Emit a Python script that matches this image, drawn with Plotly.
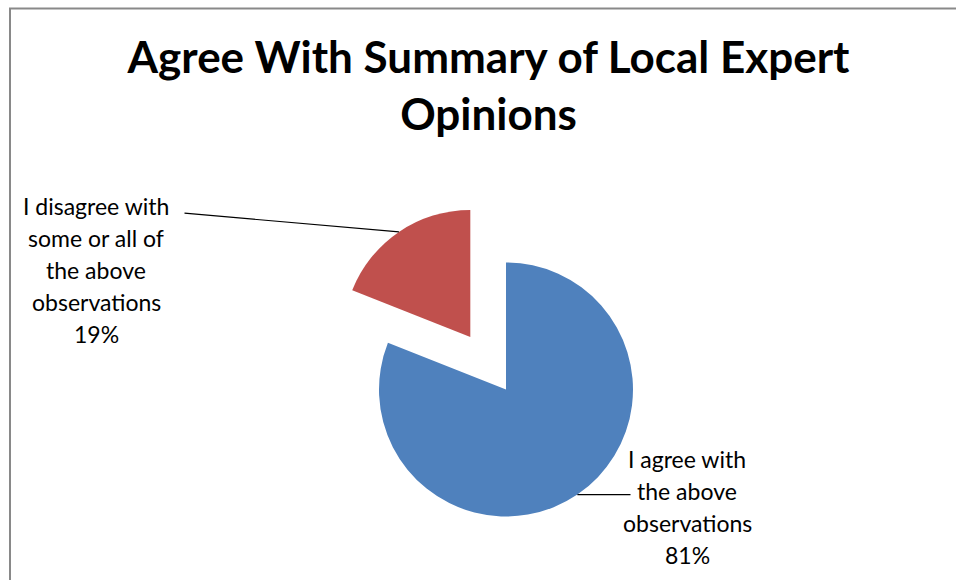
import math
import plotly.graph_objects as go

# ---- data ----
categories = ["I agree with the above observations",
              "I disagree with some or all of the above observations"]
values = [81, 19]
pulls = [0, 0.5]
colors = ["#4F81BD", "#C0504D"]
label_lines = [
    ["I agree with", "the above", "observations"],
    ["I disagree with", "some or all of", "the above", "observations"],
]
title_text = "Agree With Summary of Local Expert<br>Opinions"

# ---- layout geometry (pixels) ----
W, H = 956, 580
r = 127
cx = 506
box = r * (2 + 2 * max(pulls))
cy = H - box / 2
dom_x = [(cx - box / 2) / W, (cx + box / 2) / W]
dom_y = [0, box / H]

def px(x):
    return x / W

def py(y):
    return 1 - y / H

fig = go.Figure(go.Pie(
    labels=categories, values=values, sort=False, direction="clockwise",
    rotation=0, pull=pulls, marker=dict(colors=colors, line=dict(width=0)),
    textinfo="none", hoverinfo="label+percent", showlegend=False,
    domain=dict(x=dom_x, y=dom_y),
))

total = sum(values)
pcts = [round(v / total * 100) for v in values]

# leader-line anchor points on each slice (outer edge, mid-angle)
anchors = []
cum = 0
for v, p in zip(values, pulls):
    mid = (cum + v / 2) / total * 2 * math.pi
    cum += v
    ax_ = cx + (1 + p) * r * math.sin(mid)
    ay_ = cy - (1 + p) * r * math.cos(mid)
    anchors.append((ax_, ay_))

label_font = dict(family="Lato, Carlito, Calibri, sans-serif", size=23, color="#000000")
annotations = []
# label text placements: (center x, first line middle y, step)
placements = [(687, 459, 32), (96, 206, 32)]
for i, (lines, (lx, ly, step)) in enumerate(zip(label_lines, placements)):
    all_lines = lines + [f"{pcts[i]}%"]
    for j, t in enumerate(all_lines):
        annotations.append(dict(
            text=t, x=px(lx), y=py(ly + j * step), xref="paper", yref="paper",
            xanchor="center", yanchor="middle", showarrow=False, font=label_font,
        ))

# leader lines
tails = [(632, None), (183, 213)]
for (tx, ty), (axp, ayp) in zip(tails, anchors):
    if ty is None:
        ty = ayp
    annotations.append(dict(
        text="", x=px(axp), y=py(ayp), xref="paper", yref="paper",
        showarrow=True, arrowhead=0, arrowwidth=1.2, arrowcolor="#000000",
        ax=tx - axp, ay=ty - ayp, axref="pixel", ayref="pixel", standoff=0,
    ))

fig.update_layout(
    width=W, height=H,
    margin=dict(l=0, r=0, t=0, b=0),
    paper_bgcolor="#FFFFFF", plot_bgcolor="#FFFFFF",
    title=dict(
        text=title_text, x=0.511, xanchor="center", y=py(73), yanchor="middle",
        font=dict(family="Lato, Carlito, Calibri, sans-serif", size=44,
                  color="#000000", weight="bold"),
    ),
    annotations=annotations,
    shapes=[dict(type="rect", xref="paper", yref="paper",
                 x0=px(10), y0=py(8.5), x1=1.05, y1=-0.05,
                 line=dict(color="#898989", width=2), fillcolor="rgba(0,0,0,0)")],
)

fig.write_html(
    "out.html",
    config={"displayModeBar": False},
    post_script="document.body.style.margin='0';document.body.style.overflow='hidden';",
)
